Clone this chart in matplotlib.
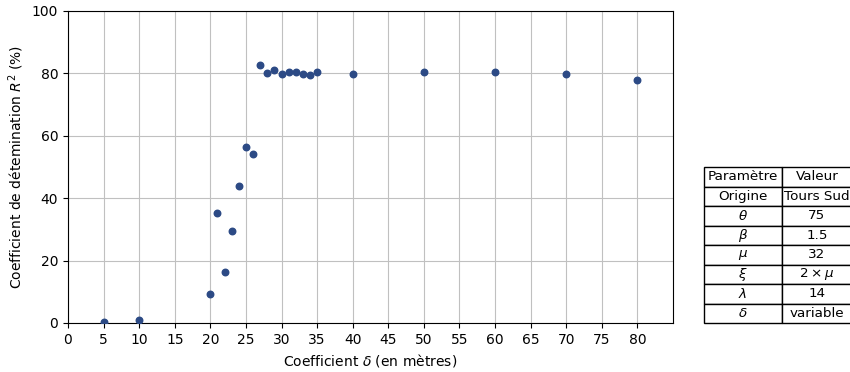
import matplotlib
matplotlib.use("Agg")
import matplotlib.pyplot as plt
import numpy as np

delta = [5, 10, 20, 21, 22, 23, 24, 25, 26, 27, 28, 29, 30, 31, 32, 33, 34, 35, 40, 50, 60, 70, 80]
r2 = [0.2, 1.0, 9.4, 35.4, 16.5, 29.5, 44.0, 56.3, 54.2, 82.6, 80.0, 81.0, 79.8, 80.3, 80.6,
      79.8, 79.5, 80.3, 79.8, 80.3, 80.3, 79.8, 77.9]

table_rows = [
    ["Paramètre", "Valeur"],
    ["Origine", "Tours Sud"],
    [r"$\theta$", "75"],
    [r"$\beta$", "1.5"],
    [r"$\mu$", "32"],
    [r"$\xi$", r"$2\times\mu$"],
    [r"$\lambda$", "14"],
    [r"$\delta$", "variable"],
]

fig = plt.figure(figsize=(8.5, 3.72), dpi=100)
ax = fig.add_axes([68/850, 49/372, 605/850, 312/372])
ax.scatter(delta, r2, s=22, color="#2c4a85", zorder=3)
ax.set_xlim(0, 85)
ax.set_ylim(0, 100)
ax.set_xticks(np.arange(0, 85, 5))
ax.set_yticks(np.arange(0, 101, 20))
ax.grid(True, color="#c0c0c0", linewidth=0.8)
ax.set_axisbelow(True)
ax.set_xlabel(r"Coefficient $\delta$ (en mètres)")
ax.set_ylabel(r"Coefficient de détemination $R^2$ (%)")

tab = ax.table(cellText=table_rows, cellLoc="center",
               bbox=[(704-68)/605, 0, (852-704)/605, 0.5])
tab.auto_set_font_size(False)
tab.set_fontsize(9.7)
for (r, c), cell in tab.get_celld().items():
    cell.set_linewidth(1.0)
    cell.set_edgecolor("black")
    if c == 0:
        cell.set_width((782-704)/605)
    else:
        cell.set_width((852-782)/605)

fig.savefig("out.png", dpi=100)
